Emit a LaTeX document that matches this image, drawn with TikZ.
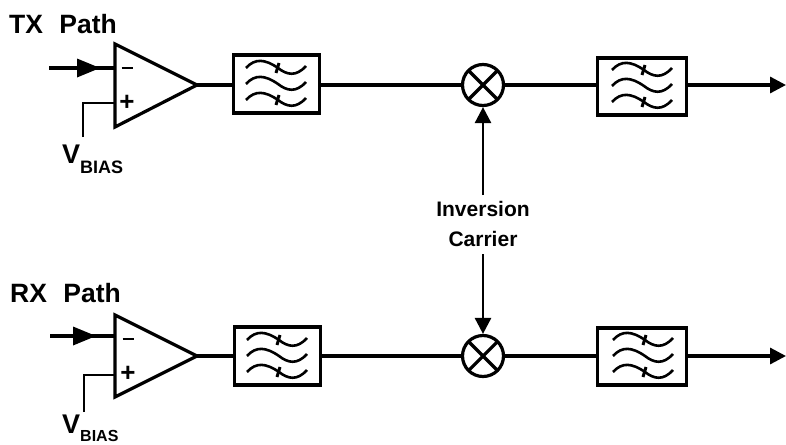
\documentclass[tikz,border=0pt]{standalone}
\usepackage{fontspec}
\setmainfont{Liberation Sans}
\usetikzlibrary{arrows.meta}
\tikzset{
  ln/.style={line width=3.2pt,line join=miter},
  fine/.style={line width=2.7pt,line join=miter},
  tip/.style={-{Triangle[length=16pt,width=16pt]}},
  filterbox/.style={draw,line width=3.2pt,minimum width=86pt,minimum height=58pt,inner sep=0pt},
  mixer/.style={draw,circle,line width=3.2pt,minimum size=41pt,inner sep=0pt},
  lab/.style={font=\fontsize{26.5}{28}\selectfont\bfseries,anchor=west,inner sep=0pt},
  sgn/.style={font=\fontsize{26}{26}\selectfont\bfseries,inner sep=0pt},
  car/.style={font=\fontsize{21}{30}\selectfont\bfseries,align=center,inner sep=0pt},
  vlab/.style={anchor=base west,inner sep=0pt,font=\fontsize{27}{27}\selectfont\bfseries},
  blab/.style={anchor=base west,inner sep=0pt,font=\fontsize{18}{18}\selectfont\bfseries}
}
\newcommand{\wavesat}[2]{%
  \begin{scope}[shift={(#1,#2)},line width=2.6pt]
   \foreach \dy in {-16,0,16}{
    \draw (-30,\dy) .. controls (-21,{\dy-10}) and (-11,{\dy-9}) .. (2,\dy) .. controls (11,{\dy+7}) and (20,{\dy+9}) .. (30,{\dy-2});
   }
   \draw[line width=3pt] (3,-21) -- (0,-11);
   \draw[line width=3pt] (3,11) -- (0,21);
  \end{scope}}
\begin{document}
\begin{tikzpicture}[x=1pt,y=-1pt]
\useasboundingbox (0,0) rectangle (786,444);
% TX
\node[lab] (txl) at (9,24) {TX\hspace{0.62em}Path};
\coordinate (ta) at (115,44); \coordinate (tb) at (115,127); \coordinate (tc) at (197,85);
\draw[ln] (ta) -- (tb) -- (tc) -- cycle;
\coordinate (tin) at (49,68); \coordinate (tinm) at (115,68);
\draw[line width=4pt] (tin) -- (tinm);
\draw[fill=black,draw=none] (77,58.5) -- (100,68) -- (77,77.5) -- cycle;
\node[sgn] (tm) at (127,68) {\rule{11pt}{2.8pt}};
\node[sgn] (tp) at (127,103) {+};
\coordinate (tbi) at (83,137); \coordinate (tbc) at (83,103); \coordinate (tpi) at (115,103);
\draw[fine] (tbi) -- (tbc) -- (tpi);
\node[vlab] (tv) at (62,163) {V};
\node[blab] (tvb) at (80,173) {BIAS};
\node[filterbox] (tf1) at (276.5,84) {};
\node[mixer] (tmx) at (483,85) {};
\node[filterbox,minimum width=89pt,minimum height=57pt] (tf2) at (642,86.5) {};
\draw[ln] (tc) -- (tf1.west|-tc);
\draw[ln] (tf1.east|-tmx) -- (tmx);
\draw[ln] (tmx) -- (tf2.west|-tmx);
\coordinate (tout) at (786,85);
\draw[ln,tip] (tf2.east|-tmx) -- (tout);
\draw[line width=3.2pt] (tmx.center) ++(-14,-14) -- ++(28,28);
\draw[line width=3.2pt] (tmx.center) ++(14,-14) -- ++(-28,28);
\wavesat{276}{84}
\wavesat{642}{86}
% carrier
\node[car] (ic) at (483,224) {Inversion\\Carrier};
\coordinate (cu) at (483,195); \coordinate (cd) at (483,254);
% RX
\node[lab] (rxl) at (10,293) {RX\hspace{0.62em}Path};
\coordinate (ra) at (115,315); \coordinate (rb) at (115,397); \coordinate (rc) at (197,356);
\draw[ln] (ra) -- (rb) -- (rc) -- cycle;
\coordinate (rin) at (50,336); \coordinate (rinm) at (115,336);
\draw[line width=4pt] (rin) -- (rinm);
\draw[fill=black,draw=none] (73,326.5) -- (96,336) -- (73,345.5) -- cycle;
\node[sgn] (rm) at (128,339) {\rule{11pt}{2.8pt}};
\node[sgn] (rp) at (128,374) {+};
\coordinate (rbi) at (84,412); \coordinate (rbc) at (84,375); \coordinate (rpi) at (115,375);
\draw[fine] (rbi) -- (rbc) -- (rpi);
\node[vlab] (rv) at (62,433) {V};
\node[blab,font=\fontsize{16}{16}\selectfont\bfseries] (rvb) at (80,441) {BIAS};
\node[filterbox] (rf1) at (277.5,356) {};
\node[mixer] (rmx) at (483,356) {};
\node[filterbox,minimum width=89pt,minimum height=57pt] (rf2) at (642,356.5) {};
\draw[ln] (rc) -- (rf1.west|-rc);
\draw[ln] (rf1.east|-rmx) -- (rmx);
\draw[ln] (rmx) -- (rf2.west|-rmx);
\coordinate (rout) at (786,356);
\draw[ln,tip] (rf2.east|-rmx) -- (rout);
\draw[line width=3.2pt] (rmx.center) ++(-14,-14) -- ++(28,28);
\draw[line width=3.2pt] (rmx.center) ++(14,-14) -- ++(-28,28);
\wavesat{277}{356}
\wavesat{643}{356}
\draw[fine,tip] (cu) -- (tmx.south);
\draw[fine,tip] (cd) -- (rmx.north);
\end{tikzpicture}
\end{document}
